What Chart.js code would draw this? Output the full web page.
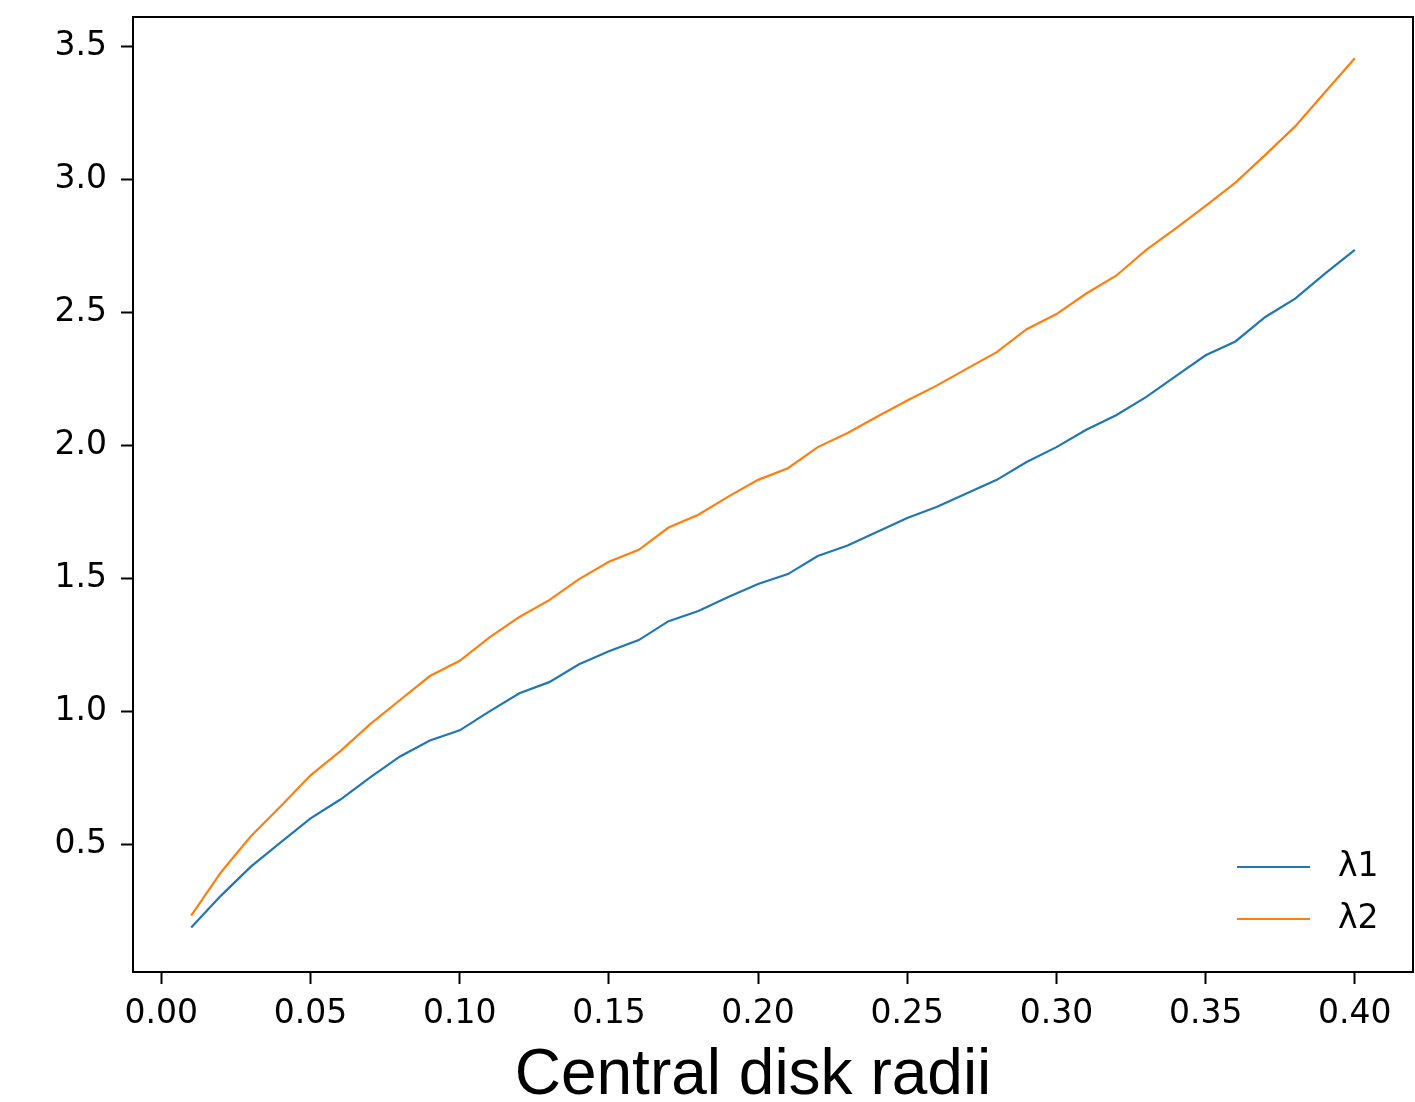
<!DOCTYPE html>
<html>
<head>
<meta charset="utf-8">
<script src="https://cdn.jsdelivr.net/npm/chart.js@4/dist/chart.umd.min.js"></script>
<style>
  html, body { margin: 0; padding: 0; background: #fff; }
  #wrap { width: 1415px; height: 1102px; }
</style>
</head>
<body>
<div id="wrap"><canvas id="grafica" width="1415" height="1102"></canvas></div>
<script>
const radios = [0.01, 0.02, 0.03, 0.04, 0.05, 0.06, 0.07, 0.08, 0.09, 0.10,
  0.11, 0.12, 0.13, 0.14, 0.15, 0.16, 0.17, 0.18, 0.19, 0.20,
  0.21, 0.22, 0.23, 0.24, 0.25, 0.26, 0.27, 0.28, 0.29, 0.30,
  0.31, 0.32, 0.33, 0.34, 0.35, 0.36, 0.37, 0.38, 0.39, 0.40];

const lambda1 = [0.188, 0.308, 0.417, 0.508, 0.598, 0.669, 0.752, 0.831, 0.891, 0.929,
  1.000, 1.068, 1.110, 1.177, 1.226, 1.268, 1.339, 1.377, 1.430, 1.479,
  1.516, 1.584, 1.623, 1.675, 1.727, 1.769, 1.820, 1.870, 1.937, 1.993,
  2.058, 2.113, 2.181, 2.260, 2.338, 2.390, 2.482, 2.551, 2.645, 2.734];

const lambda2 = [0.233, 0.396, 0.531, 0.644, 0.760, 0.851, 0.952, 1.043, 1.133, 1.190,
  1.278, 1.355, 1.418, 1.497, 1.562, 1.607, 1.691, 1.739, 1.807, 1.870,
  1.914, 1.993, 2.046, 2.108, 2.168, 2.225, 2.288, 2.350, 2.436, 2.493,
  2.570, 2.637, 2.733, 2.815, 2.899, 2.987, 3.091, 3.198, 3.326, 3.454];

const ticksX = [0.00, 0.05, 0.10, 0.15, 0.20, 0.25, 0.30, 0.35, 0.40];
const ticksY = [0.5, 1.0, 1.5, 2.0, 2.5, 3.0, 3.5];

const etiquetas = ["λ1", "λ2"];
const colores = ["#1f77b4", "#ff7f0e"];
const tituloX = "Central disk radii";

const fuenteTicks = { family: "'DejaVu Sans'", size: 33 };

// caja completa alrededor del área (spines de arriba y derecha)
const marco = {
  id: "marco",
  afterDraw(chart) {
    const { ctx, chartArea: a } = chart;
    ctx.save();
    ctx.strokeStyle = "#000";
    ctx.lineWidth = 2;
    ctx.strokeRect(a.left, a.top, a.right - a.left, a.bottom - a.top);
    ctx.restore();
  }
};

// leyenda dentro del área, abajo a la derecha, sin marco
const leyenda = {
  id: "leyenda",
  afterDraw(chart) {
    const { ctx, chartArea: a } = chart;
    ctx.save();
    ctx.font = "33px 'DejaVu Sans'";
    ctx.textBaseline = "middle";
    chart.data.datasets.forEach((ds, i) => {
      const y = a.bottom - 105 + i * 52;
      ctx.strokeStyle = ds.borderColor;
      ctx.lineWidth = 2.2;
      ctx.beginPath();
      ctx.moveTo(a.right - 176, y);
      ctx.lineTo(a.right - 103, y);
      ctx.stroke();
      ctx.fillStyle = "#000";
      ctx.fillText(ds.label, a.right - 75, y);
    });
    ctx.restore();
  }
};

// título del eje x
const titulo = {
  id: "titulo",
  afterDraw(chart) {
    const { ctx } = chart;
    ctx.save();
    ctx.font = "64px 'Liberation Sans'";
    ctx.fillStyle = "#000";
    ctx.textAlign = "center";
    ctx.textBaseline = "alphabetic";
    ctx.fillText(tituloX, 753, 1094);
    ctx.restore();
  }
};

const ejeComun = {
  grid: { display: true, drawOnChartArea: false, drawTicks: true, tickLength: 12, tickWidth: 2, tickColor: "#000" },
  border: { display: true, color: "#000", width: 2 }
};

new Chart(document.getElementById("grafica").getContext("2d"), {
  type: "line",
  data: {
    datasets: [
      { label: etiquetas[0], data: radios.map((r, i) => ({ x: r, y: lambda1[i] })), borderColor: colores[0], borderWidth: 2.2, pointRadius: 0, tension: 0, fill: false },
      { label: etiquetas[1], data: radios.map((r, i) => ({ x: r, y: lambda2[i] })), borderColor: colores[1], borderWidth: 2.2, pointRadius: 0, tension: 0, fill: false }
    ]
  },
  options: {
    responsive: false,
    animation: false,
    layout: { padding: { left: 0, top: 17, right: 2, bottom: 0 } },
    plugins: { legend: { display: false }, tooltip: { enabled: false } },
    scales: {
      x: {
        type: "linear",
        min: -0.0095,
        max: 0.4195,
        ...ejeComun,
        afterFit: s => { s.height = 130; s.paddingLeft = 0; s.paddingRight = 0; },
        afterBuildTicks: s => { s.ticks = ticksX.map(v => ({ value: v })); },
        ticks: { color: "#000", font: fuenteTicks, padding: 11, maxRotation: 0, autoSkip: false, callback: v => v.toFixed(2) }
      },
      y: {
        type: "linear",
        min: 0.021,
        max: 3.609,
        ...ejeComun,
        afterFit: s => { s.width = 133; s.paddingTop = 0; s.paddingBottom = 0; },
        afterBuildTicks: s => { s.ticks = ticksY.map(v => ({ value: v })); },
        ticks: { color: "#000", font: fuenteTicks, padding: 14, autoSkip: false, callback: v => v.toFixed(1) }
      }
    }
  },
  plugins: [marco, leyenda, titulo]
});
</script>
</body>
</html>
